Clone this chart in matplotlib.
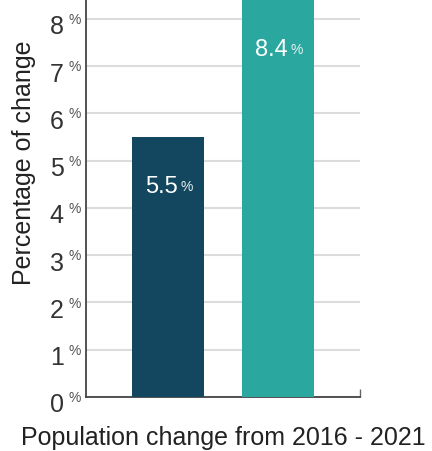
import matplotlib
matplotlib.use("Agg")
import matplotlib.pyplot as plt
import matplotlib.transforms as mtransforms

categories = ["2016 - 2021 (A)", "2016 - 2021 (B)"]
values = [5.5, 8.4]
bar_colors = ["#12475f", "#2aa8a0"]
yticks = [0, 1, 2, 3, 4, 5, 6, 7, 8]
ytick_labels = ["0", "1", "2", "3", "4", "5", "6", "7", "8"]
xlabel = "Population change from 2016 - 2021"
ylabel = "Percentage of change"

plt.rcParams["font.family"] = ["Liberation Sans", "DejaVu Sans"]

fig = plt.figure(figsize=(4.32, 4.52), dpi=100)
ax = fig.add_axes([0.199, 0.1195, 0.634, 0.8805])

xpos = list(range(len(values)))
ax.bar(xpos, values, width=0.65, color=bar_colors, zorder=3)
ax.set_xlim(-0.745, 1.745)
ax.set_ylim(0, 8.42)

ax.set_yticks(yticks)
ax.set_yticklabels(ytick_labels, fontsize=18, color="#333333")
ax.tick_params(axis="y", length=0, pad=16)
shift = mtransforms.ScaledTranslation(0, -5 / 100, fig.dpi_scale_trans)
for lab in ax.get_yticklabels():
    lab.set_transform(lab.get_transform() + shift)
ax.yaxis.grid(True, color="#dcdcdc", linewidth=1.5, zorder=0)
ax.set_axisbelow(True)

# small "%" after each tick number
for t in yticks:
    ax.annotate("%", xy=(0, t), xycoords=("axes fraction", "data"),
                xytext=(-4, 5), textcoords="offset points",
                ha="right", va="top", fontsize=10, color="#555555",
                annotation_clip=False)

ax.set_xticks([1.745])
ax.set_xticklabels([""])
ax.tick_params(axis="x", direction="in", length=6, width=1.0, color="#666666")

for s in ["top", "right"]:
    ax.spines[s].set_visible(False)
for s in ["left", "bottom"]:
    ax.spines[s].set_color("#444444")
    ax.spines[s].set_linewidth(1.3)

# value labels
for x, v in zip(xpos, values):
    ax.annotate(f"{v:.1f}", xy=(x, v), xycoords="data",
                xytext=(7, -35), textcoords="offset points",
                ha="right", va="center", fontsize=17, color="white", zorder=5)
    ax.annotate("%", xy=(x, v), xycoords="data",
                xytext=(9, -35), textcoords="offset points",
                ha="left", va="center", fontsize=10, color="#e8f2f2", zorder=5)

ax.set_xlabel(xlabel, fontsize=18, color="#222222", labelpad=17)
ax.set_ylabel(ylabel, fontsize=18, color="#222222", va="center")
ax.yaxis.set_label_coords(-0.225, 0.59)

fig.savefig("out.png", dpi=100)
